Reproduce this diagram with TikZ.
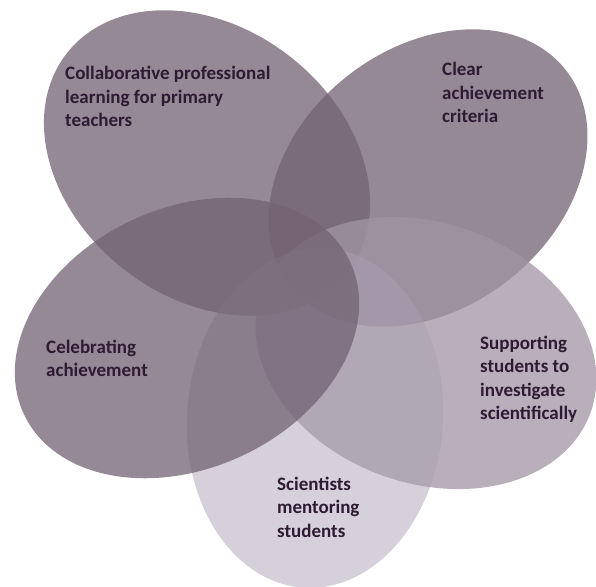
\documentclass[tikz,border=0pt]{standalone}
\usepackage{fontspec}
\setmainfont{Carlito}
\definecolor{petal}{RGB}{114,98,114}
\definecolor{petalC}{RGB}{160,148,163}
\definecolor{petalD}{RGB}{171,161,179}
\definecolor{txt}{RGB}{46,26,51}
\tikzset{
  lbl/.style={anchor=base west, inner sep=0pt, align=left, text=txt,
    font=\fontsize{19pt}{23.5pt}\selectfont\bfseries},
}
\begin{document}
\begin{tikzpicture}[x=1pt,y=1pt]
\useasboundingbox (0,0) rectangle (596,586);
% petals, drawn in order A,B,C,D,E
\fill[petal, fill opacity=0.75, rotate around={-38:(207,423)}] (207,423) ellipse [x radius=178pt, y radius=135pt];
\fill[petal, fill opacity=0.75, rotate around={38:(428,408)}] (428,408) ellipse [x radius=175pt, y radius=130pt];
\fill[petalC, fill opacity=0.75, rotate around={-20:(426,233)}] (426,233) ellipse [x radius=175pt, y radius=130pt];
\fill[petalD, fill opacity=0.5, rotate around={86:(315,168)}] (315,168) ellipse [x radius=170pt, y radius=128pt];
\fill[petal, fill opacity=0.75, rotate around={25:(187,248)}] (187,248) ellipse [x radius=180pt, y radius=130pt];
% labels (anchor at the baseline of the last line)
\node[lbl] (ta) at (65,459) {Collaborative professional\\learning for primary\\teachers};
\node[lbl] (tb) at (442,463) {Clear\\achievement\\criteria};
\node[lbl] (tc) at (480,166) {Supporting\\students to\\investigate\\scientifically};
\node[lbl] (td) at (277,49) {Scientists\\mentoring\\students};
\node[lbl] (te) at (46,209) {Celebrating\\achievement};
\end{tikzpicture}
\end{document}
